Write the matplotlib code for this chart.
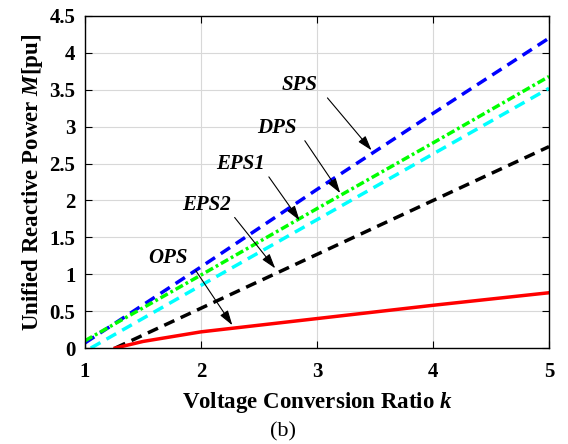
import matplotlib.pyplot as plt
import numpy as np

# values
k_sps = [1.0, 2.0, 3.0, 4.0, 5.0]
m_sps = [0.07, 1.10, 2.15, 3.18, 4.20]

k_dps = [1.0, 2.0, 3.0, 4.0, 5.0]
m_dps = [0.10, 0.99, 1.89, 2.78, 3.68]

k_eps1 = [1.05, 2.0, 3.0, 4.0, 5.0]
m_eps1 = [0.0, 0.85, 1.74, 2.63, 3.52]

k_eps2 = [1.26, 2.0, 3.0, 4.0, 5.0]
m_eps2 = [0.0, 0.54, 1.27, 2.00, 2.73]

k_ops = [1.26, 1.5, 2.0, 3.0, 4.0, 5.0]
m_ops = [0.0, 0.09, 0.22, 0.40, 0.58, 0.75]

# label, text position, arrow tip
labels = ['SPS', 'DPS', 'EPS1', 'EPS2', 'OPS']
text_xy = [(2.85, 3.56), (2.655, 2.98), (2.345, 2.49), (2.05, 1.94), (1.715, 1.22)]
tip_xy = [(3.47, 2.68), (3.20, 2.10), (2.85, 1.73), (2.64, 1.08), (2.27, 0.31)]

plt.rcParams['font.family'] = 'Liberation Serif'
plt.rcParams['font.weight'] = 'bold'
plt.rcParams['mathtext.fontset'] = 'custom'
plt.rcParams['mathtext.it'] = 'Liberation Serif:italic:bold'
plt.rcParams['mathtext.rm'] = 'Liberation Serif:bold'

fig = plt.figure(figsize=(5.68, 4.44), dpi=100)
ax = fig.add_axes([0.1496, 0.216, 0.817, 0.748])

lw = 2.5
ax.plot(k_sps, m_sps, color='#0000ff', lw=lw, dashes=(3.2, 2))
ax.plot(k_eps1, m_eps1, color='#00ffff', lw=lw, dashes=(3.2, 2))
ax.plot(k_dps, m_dps, color='#00ff00', lw=lw, dashes=(2.4, 0.9, 0.8, 0.9))
ax.plot(k_eps2, m_eps2, color='black', lw=lw, dashes=(3.2, 2))
ax.plot(k_ops, m_ops, color='#ff0000', lw=lw)

for lab, (tx, ty), (hx, hy) in zip(labels, text_xy, tip_xy):
    ax.text(tx, ty, lab, fontsize=15, fontstyle='italic', fontweight='bold',
            ha='center', va='center')
    # arrow starts a bit below-right of the text
    sx = tx + 0.24
    sy = ty - 0.17
    ax.annotate('', xy=(hx, hy), xytext=(sx, sy),
                arrowprops=dict(arrowstyle='-|>,head_length=0.9,head_width=0.28',
                                color='black', lw=0.8, shrinkA=0, shrinkB=0))

ax.set_xlim(1, 5)
ax.set_ylim(0, 4.5)
ax.set_xticks(np.arange(1, 6, 1))
ax.set_yticks(np.arange(0, 4.51, 0.5))
ax.set_yticklabels(['0', '0.5', '1', '1.5', '2', '2.5', '3', '3.5', '4', '4.5'])
ax.tick_params(direction='in', top=True, right=True, length=5, width=0.8,
               labelsize=15, pad=7)
ax.tick_params(axis='x', pad=10)
for lbl in ax.get_xticklabels() + ax.get_yticklabels():
    lbl.set_fontweight('bold')
ax.grid(True, color='#d8d8d8', lw=0.8)
for sp in ax.spines.values():
    sp.set_linewidth(1.0)

ax.set_xlabel('Voltage Conversion Ratio $k$', fontsize=16.5, fontweight='bold', labelpad=6)
ax.set_ylabel('Unified Reactive Power $M$[pu]', fontsize=16.5, fontweight='bold', labelpad=3)
fig.text(0.498, 0.027, '(b)', fontsize=16, fontweight='normal', ha='center', va='center')

fig.savefig('out.png', dpi=100)
